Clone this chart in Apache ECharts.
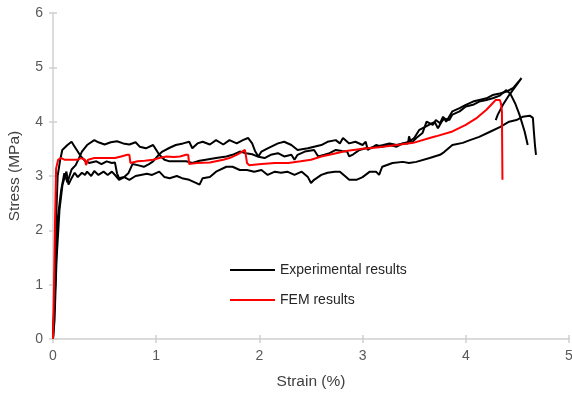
<!DOCTYPE html>
<html>
<head>
<meta charset="utf-8">
<script src="https://cdn.jsdelivr.net/npm/echarts@6/dist/echarts.min.js"></script>
<style>
  html, body { margin: 0; padding: 0; background: #fff; }
  #chart { width: 572px; height: 394px; }
</style>
</head>
<body>
<div id="chart"></div>
<script>
// Axis ticks
const strainTicks = [0, 1, 2, 3, 4, 5];
const stressTicks = [0, 1, 2, 3, 4, 5, 6];

// Experimental curve 1 (lowest, peaks near 4.1 MPa) — [strain %, stress MPa]
const expLow = [
  [0,0],[0.015,0.35],[0.034,1.45],[0.063,2.38],[0.092,2.84],[0.11,2.96],[0.13,3.08],[0.15,2.84],
  [0.18,2.96],[0.21,3.06],[0.24,2.98],[0.28,3.06],[0.31,3.02],[0.33,3.08],[0.37,3.00],[0.40,3.09],
  [0.44,3.02],[0.49,3.08],[0.53,3.02],[0.57,3.08],[0.61,3.00],[0.64,2.93],[0.69,2.98],[0.74,2.93],
  [0.80,3.00],[0.85,3.02],[0.91,3.04],[0.96,3.02],[1.03,3.08],[1.08,2.98],[1.13,2.96],[1.20,3.00],
  [1.25,2.96],[1.32,2.93],[1.39,2.87],[1.42,2.84],[1.45,2.96],[1.52,2.98],[1.58,3.08],[1.68,3.17],
  [1.74,3.17],[1.81,3.11],[1.88,3.11],[1.95,3.08],[2.02,3.11],[2.08,3.02],[2.15,3.08],[2.21,3.06],
  [2.27,3.08],[2.34,3.02],[2.41,3.08],[2.47,2.98],[2.50,2.87],[2.53,2.93],[2.60,3.02],[2.66,3.06],
  [2.73,3.08],[2.78,3.08],[2.84,2.98],[2.87,2.93],[2.94,2.93],[3.00,2.98],[3.07,3.08],[3.13,3.08],
  [3.16,3.02],[3.19,3.17],[3.29,3.24],[3.39,3.26],[3.45,3.24],[3.52,3.26],[3.65,3.33],[3.75,3.39],
  [3.79,3.44],[3.87,3.57],[3.97,3.61],[4.04,3.66],[4.13,3.72],[4.23,3.81],[4.33,3.90],[4.42,4.00],
  [4.49,4.03],[4.55,4.09],[4.62,4.11],[4.65,4.07],[4.66,3.81],[4.67,3.57],[4.68,3.39]
];

// Experimental curve 2 (early peak, reaches 4.8 MPa)
const expPeak = [
  [0,0],[0.015,0.8],[0.03,2.2],[0.045,3.0],[0.07,3.3],[0.09,3.48],[0.14,3.57],[0.18,3.63],
  [0.21,3.54],[0.24,3.45],[0.27,3.36],[0.31,3.28],[0.35,3.24],[0.42,3.27],[0.47,3.22],[0.52,3.27],
  [0.57,3.24],[0.60,3.25],[0.62,3.05],[0.64,2.96],[0.69,2.98],[0.73,3.05],[0.77,3.22],[0.82,3.20],
  [0.88,3.17],[0.93,3.22],[0.97,3.27],[1.03,3.40],[1.06,3.45],[1.13,3.52],[1.19,3.57],[1.26,3.60],
  [1.32,3.63],[1.35,3.51],[1.40,3.60],[1.45,3.63],[1.52,3.58],[1.58,3.66],[1.65,3.58],[1.71,3.66],
  [1.78,3.60],[1.84,3.66],[1.89,3.70],[1.93,3.60],[1.96,3.45],[1.99,3.36],[2.02,3.45],[2.08,3.51],
  [2.18,3.60],[2.24,3.63],[2.31,3.57],[2.37,3.48],[2.47,3.51],[2.53,3.54],[2.60,3.57],[2.66,3.63],
  [2.74,3.66],[2.78,3.60],[2.81,3.70],[2.87,3.60],[2.93,3.63],[3.00,3.57],[3.03,3.63],[3.05,3.48],
  [3.08,3.52],[3.13,3.54],[3.20,3.57],[3.26,3.60],[3.33,3.57],[3.39,3.60],[3.44,3.60],[3.45,3.73],
  [3.47,3.60],[3.52,3.70],[3.58,3.79],[3.62,4.00],[3.68,3.94],[3.71,4.03],[3.75,3.97],[3.78,4.09],
  [3.81,4.00],[3.87,4.19],[3.94,4.25],[4.00,4.31],[4.07,4.37],[4.13,4.40],[4.20,4.43],[4.26,4.49],
  [4.33,4.52],[4.39,4.55],[4.46,4.62],[4.54,4.80],[4.42,4.49],[4.36,4.31],[4.31,4.13],[4.29,4.03]
];

// Experimental curve 3 (late start, drops after 4.6 MPa)
const expMid = [
  [0,0],[0.02,0.9],[0.045,2.2],[0.08,2.75],[0.11,3.05],[0.14,2.88],[0.18,3.12],[0.22,3.20],
  [0.25,3.32],[0.28,3.45],[0.33,3.57],[0.40,3.66],[0.44,3.62],[0.50,3.58],[0.56,3.62],[0.62,3.64],
  [0.68,3.60],[0.74,3.58],[0.80,3.62],[0.84,3.54],[0.90,3.51],[0.97,3.57],[1.03,3.39],[1.08,3.30],
  [1.13,3.27],[1.23,3.27],[1.29,3.27],[1.35,3.24],[1.42,3.28],[1.48,3.30],[1.58,3.33],[1.68,3.36],
  [1.74,3.39],[1.81,3.45],[1.87,3.42],[1.93,3.40],[1.98,3.36],[2.05,3.33],[2.11,3.39],[2.18,3.42],
  [2.24,3.36],[2.31,3.39],[2.34,3.30],[2.37,3.39],[2.44,3.45],[2.53,3.48],[2.57,3.36],[2.63,3.39],
  [2.68,3.42],[2.74,3.48],[2.80,3.46],[2.85,3.45],[2.87,3.36],[2.91,3.40],[2.97,3.48],[3.03,3.51],
  [3.08,3.51],[3.13,3.57],[3.19,3.54],[3.26,3.57],[3.33,3.54],[3.39,3.60],[3.45,3.63],[3.50,3.70],
  [3.55,3.85],[3.62,3.92],[3.67,3.97],[3.70,3.99],[3.73,3.88],[3.76,3.98],[3.79,4.06],[3.84,4.03],
  [3.87,4.13],[3.94,4.19],[4.00,4.28],[4.07,4.31],[4.13,4.37],[4.20,4.40],[4.26,4.43],[4.33,4.48],
  [4.39,4.58],[4.43,4.52],[4.48,4.33],[4.52,4.13],[4.57,3.82],[4.60,3.57]
];

// FEM prediction
const femCurve = [
  [0,0],[0.01,1.0],[0.02,2.2],[0.03,3.14],[0.05,3.30],[0.08,3.33],[0.11,3.30],[0.18,3.30],
  [0.24,3.30],[0.27,3.33],[0.31,3.30],[0.32,3.20],[0.34,3.30],[0.40,3.33],[0.47,3.33],[0.53,3.33],
  [0.60,3.33],[0.66,3.36],[0.72,3.39],[0.74,3.39],[0.75,3.24],[0.76,3.27],[0.82,3.27],[0.89,3.28],
  [0.97,3.30],[1.03,3.33],[1.10,3.36],[1.17,3.35],[1.23,3.36],[1.29,3.39],[1.31,3.39],[1.32,3.22],
  [1.39,3.24],[1.52,3.25],[1.65,3.30],[1.71,3.33],[1.78,3.39],[1.81,3.42],[1.86,3.48],[1.87,3.48],
  [1.88,3.24],[1.90,3.20],[2.02,3.22],[2.15,3.24],[2.28,3.24],[2.40,3.27],[2.50,3.30],[2.60,3.36],
  [2.70,3.40],[2.84,3.46],[3.00,3.50],[3.16,3.53],[3.33,3.57],[3.49,3.61],[3.65,3.70],[3.71,3.73],
  [3.87,3.82],[4.00,3.94],[4.10,4.06],[4.20,4.22],[4.26,4.34],[4.29,4.40],[4.33,4.40],[4.34,4.34],
  [4.35,4.19],[4.355,2.93]
];

const EXP_NAME = 'Experimental results';
const FEM_NAME = 'FEM results';

const chart = echarts.init(document.getElementById('chart'), null, { renderer: 'canvas' });

const axisGray = '#d0d0d0';
const FONT = 'Liberation Sans, Arial, sans-serif';
const labelFont = { fontFamily: FONT, fontSize: 14, color: '#595959' };

function valueAxis(extra) {
  return Object.assign({
    type: 'value',
    splitLine: { show: false },
    axisLine: { show: true, lineStyle: { color: axisGray, width: 1.5 } },
    axisTick: { show: true, length: 4, lineStyle: { color: axisGray, width: 1.5 } }
  }, extra);
}

function expSeries(data) {
  return {
    name: EXP_NAME, type: 'line', data: data, showSymbol: false, symbol: 'none',
    lineStyle: { color: '#000', width: 2 }, itemStyle: { color: '#000' },
    xAxisIndex: 0, yAxisIndex: 0, z: 2
  };
}

function legendBox(name, top) {
  return {
    data: [{ name: name, icon: 'rect' }], left: 230, top: top, orient: 'vertical', padding: 0,
    itemWidth: 45, itemHeight: 2, itemGap: 6, selectedMode: false,
    textStyle: { fontFamily: FONT, fontSize: 14, color: '#262626' }
  };
}

chart.setOption({
  animation: false,
  backgroundColor: '#fff',
  grid: { left: 53, right: 3, top: 13, bottom: 55, containLabel: false, outerBoundsMode: 'none' },
  xAxis: [
    valueAxis({
      min: strainTicks[0], max: strainTicks[strainTicks.length - 1], interval: 1,
      name: 'Strain (%)', nameLocation: 'middle', nameGap: 35,
      nameTextStyle: { fontFamily: FONT, fontSize: 15.5, color: '#404040' },
      axisLabel: Object.assign({ margin: 10 }, labelFont)
    }),
    valueAxis({
      min: strainTicks[0], max: strainTicks[strainTicks.length - 1], interval: 1,
      position: 'bottom', axisLine: { show: false }, axisLabel: { show: false },
      axisTick: { show: true, inside: true, length: 4, lineStyle: { color: axisGray, width: 1.5 } }
    })
  ],
  yAxis: [
    valueAxis({
      min: stressTicks[0], max: stressTicks[stressTicks.length - 1], interval: 1,
      name: 'Stress (MPa)', nameLocation: 'middle', nameGap: 30,
      nameTextStyle: { fontFamily: FONT, fontSize: 15.5, color: '#404040' },
      axisLabel: Object.assign({ margin: 10 }, labelFont)
    }),
    valueAxis({
      min: stressTicks[0], max: stressTicks[stressTicks.length - 1], interval: 1,
      position: 'left', axisLine: { show: false }, axisLabel: { show: false },
      axisTick: { show: true, inside: true, length: 4, lineStyle: { color: axisGray, width: 1.5 } }
    })
  ],
  legend: [legendBox(EXP_NAME, 263), legendBox(FEM_NAME, 293)],
  series: [
    expSeries(expLow),
    expSeries(expPeak),
    expSeries(expMid),
    {
      name: FEM_NAME, type: 'line', data: femCurve, showSymbol: false, symbol: 'none',
      lineStyle: { color: '#ff0000', width: 2 }, itemStyle: { color: '#ff0000' }, z: 3
    }
  ]
});
</script>
</body>
</html>
